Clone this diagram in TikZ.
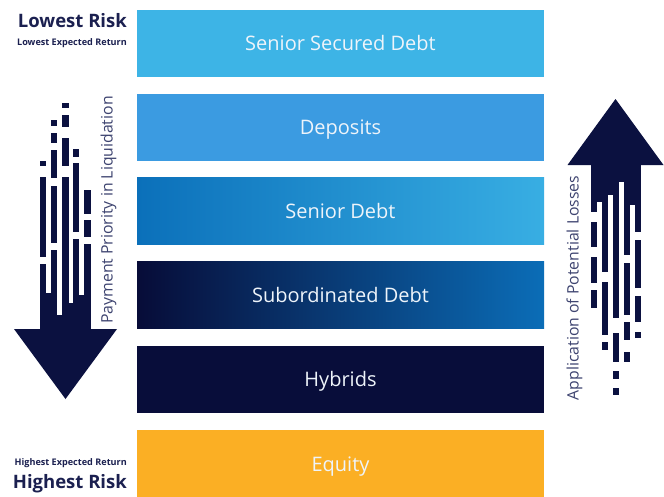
\documentclass[tikz,border=0pt]{standalone}
\usepackage{fontspec}
\setmainfont{Open Sans}
\definecolor{navy}{HTML}{0B1140}
\definecolor{labelnavy}{HTML}{1B2050}
\definecolor{sidegray}{HTML}{3E4470}
\definecolor{ssd}{HTML}{3DB4E6}
\definecolor{dep}{HTML}{3B9BE1}
\definecolor{sdL}{HTML}{0B70BA}
\definecolor{sdR}{HTML}{38AEE3}
\definecolor{subL}{HTML}{070C38}
\definecolor{subR}{HTML}{0B6DB7}
\definecolor{hyb}{HTML}{080D3A}
\definecolor{eq}{HTML}{FBAF24}
\definecolor{boxtext}{HTML}{EEF4FA}
\begin{document}
\begin{tikzpicture}[x=1pt,y=-1pt,
  tier/.style={minimum width=407pt,minimum height=67pt,inner sep=0pt,
    text height=14.3pt,text depth=0pt,
    text=boxtext,font=\fontsize{20}{24}\selectfont},
  risk/.style={anchor=east,inner sep=0pt,text=labelnavy,font=\bfseries\fontsize{18.5}{22}\selectfont},
  ret/.style={anchor=east,inner sep=0pt,text=labelnavy,font=\bfseries\fontsize{9.1}{11}\selectfont},
  side/.style={inner sep=0pt,text=sidegray,rotate=90,font=\fontsize{15.8}{18}\selectfont}]
\useasboundingbox (0,0) rectangle (664,496);
\fill[white] (0,0) rectangle (664,496);

% tiers
\node[tier,fill=ssd] (t1) at (340.5,43) {Senior Secured Debt};
\node[tier,fill=dep] (t2) at (340.5,127) {Deposits};
\node[tier,shade,left color=sdL,right color=sdR] (t3) at (340.5,211) {Senior Debt};
\node[tier,shade,left color=subL,right color=subR] (t4) at (340.5,295) {Subordinated Debt};
\node[tier,fill=hyb] (t5) at (340.5,379) {Hybrids};
\node[tier,fill=eq,minimum height=70pt] (t6) at (340.5,464.5) {Equity};

% left labels
\node[risk] (lr) at (127,21) {Lowest Risk};
\node[ret] (lre) at (127,43) {Lowest Expected Return};
\node[ret] (hre) at (127,463) {Highest Expected Return};
\node[risk] (hr) at (127,484) {Highest Risk};

% side labels
\node[side] (pp) at (108.5,210) {Payment Priority in Liquidation};
\node[side] (al) at (574.5,288) {Application of Potential Losses};

% left arrow (down)
\fill[navy] (14,329) -- (117,329) -- (65.5,399) -- cycle;
\foreach \xa/\xb/\ya/\yb in {
  40/46/161/166, 40/46/177/257, 40/46/264/330,
  51/57/120/126, 51/57/133/143, 51/57/150/178, 51/57/186/243, 51/57/250/330,
  62/68.5/103/108, 62/68.5/115/127, 62/68.5/138/166, 62/68.5/177/330,
  73/79/149/157, 73/79/163/232, 73/79/239/330,
  84/91/190/214, 84/91/220/237, 84/91/244/330,
  46/51/293/330, 57/62/315/330, 68.5/73/303/330, 79/84/295/330}
  \fill[navy] (\xa,\ya) rectangle (\xb,\yb);

% right arrow (up)
\fill[navy] (567.5,165) -- (663.5,165) -- (615.5,99) -- cycle;
\foreach \xa/\xb/\ya/\yb in {
  590.5/596.5/164/212, 590.5/596.5/222/247, 590.5/596.5/257/283, 590.5/596.5/290/308,
  601.5/607.5/164/272, 601.5/607.5/282/335, 601.5/607.5/342/350,
  612.5/618.5/164/318, 612.5/618.5/333/362, 612.5/618.5/371/379, 612.5/618.5/388/395,
  623.5/629.5/164/255, 623.5/629.5/263/315, 623.5/629.5/322/340, 623.5/629.5/352/362,
  634.5/640.5/164/232, 634.5/640.5/240/288, 634.5/640.5/296/322, 634.5/640.5/332/338,
  590.5/640.5/164/182,
  596.5/601.5/164/202, 607.5/612.5/164/195, 618.5/623.5/164/182, 629.5/634.5/164/205}
  \fill[navy] (\xa,\ya) rectangle (\xb,\yb);
\end{tikzpicture}
\end{document}
